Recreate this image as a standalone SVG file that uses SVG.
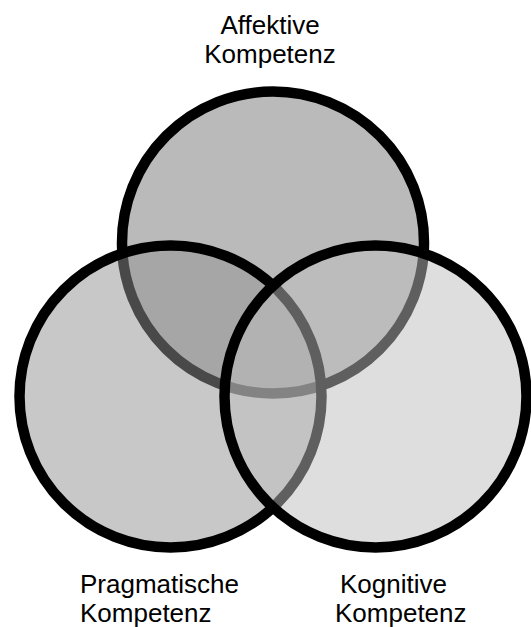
<svg xmlns="http://www.w3.org/2000/svg" width="531" height="627" viewBox="0 0 531 627">
<style>
.c{stroke:#000;stroke-width:10.5}
.t{font-family:"Liberation Sans",Arial,sans-serif;font-size:26px;fill:#000}
</style>
<rect width="531" height="627" fill="#fff"/>
<g id="affektive">
<circle class="c" cx="273" cy="242.5" r="151" fill="#bababa"/>
<text class="t" x="270" y="34" text-anchor="middle">Affektive</text>
<text class="t" x="270" y="63" text-anchor="middle">Kompetenz</text>
</g>
<g id="pragmatische">
<circle class="c" cx="170.5" cy="396.5" r="151" fill="#919191" fill-opacity="0.5"/>
<text class="t" x="80" y="593">Pragmatische</text>
<text class="t" x="80" y="622">Kompetenz</text>
</g>
<g id="kognitive">
<circle class="c" cx="375.5" cy="396.5" r="151" fill="#bdbdbd" fill-opacity="0.5"/>
<text class="t" x="340" y="593">Kognitive</text>
<text class="t" x="335" y="622">Kompetenz</text>
</g>
<g id="connectors"/>
</svg>
